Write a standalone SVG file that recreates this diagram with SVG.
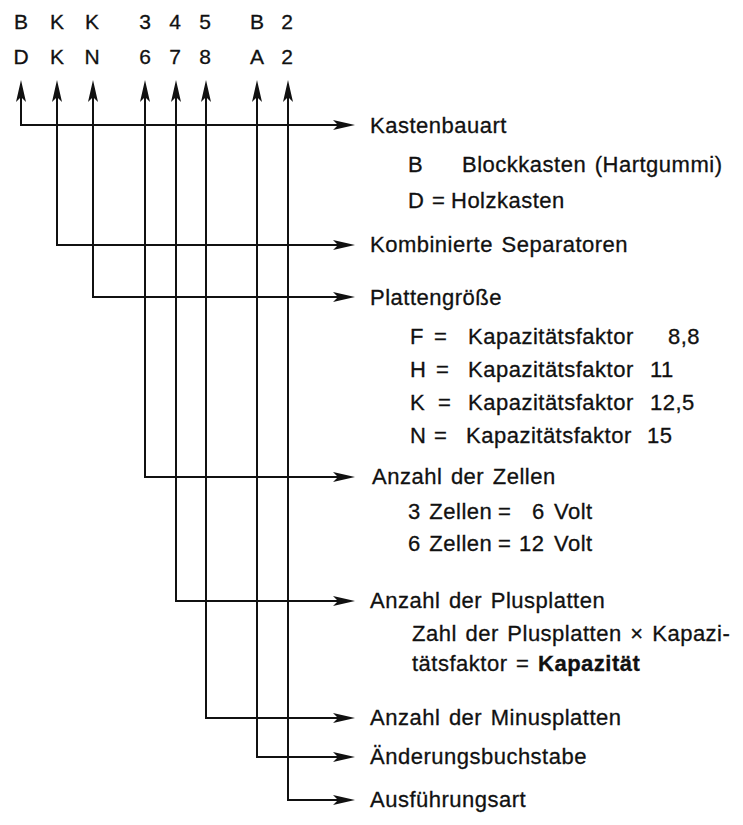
<svg xmlns="http://www.w3.org/2000/svg" width="743" height="825" viewBox="0 0 743 825">
<style>
text{font-family:"Liberation Sans",Arial,sans-serif;font-size:22px;letter-spacing:0.5px;word-spacing:2px;fill:#111;stroke:#111;stroke-width:0.3}
.c{text-anchor:middle;font-size:21px;letter-spacing:0}
.b{font-weight:bold}
.ln{fill:none;stroke:#111;stroke-width:2;marker-start:url(#ah);marker-end:url(#ah)}
</style>
<defs>
<marker id="ah" markerUnits="userSpaceOnUse" viewBox="-18 -6 26 12" refX="0" refY="0" markerWidth="26" markerHeight="12" orient="auto-start-reverse">
<path d="M6,0 L-16,-5 L-11,0 L-16,5 Z" fill="#111"/>
</marker>
</defs>
<rect width="743" height="825" fill="#fff"/>
<g id="code">
<text class="c" x="21" y="29">B</text><text class="c" x="57" y="29">K</text><text class="c" x="92" y="29">K</text>
<text class="c" x="145" y="29">3</text><text class="c" x="175" y="29">4</text><text class="c" x="205" y="29">5</text>
<text class="c" x="257" y="29">B</text><text class="c" x="287" y="29">2</text>
<text class="c" x="21" y="64">D</text><text class="c" x="57" y="64">K</text><text class="c" x="92" y="64">N</text>
<text class="c" x="145" y="64">6</text><text class="c" x="175" y="64">7</text><text class="c" x="205" y="64">8</text>
<text class="c" x="257" y="64">A</text><text class="c" x="287" y="64">2</text>
</g>
<g id="connectors">
<path class="ln" d="M21,86 V125 H349"/>
<path class="ln" d="M57,86 V245 H349"/>
<path class="ln" d="M93,86 V297 H349"/>
<path class="ln" d="M145,86 V477 H349"/>
<path class="ln" d="M176,86 V601 H349"/>
<path class="ln" d="M206,86 V718 H349"/>
<path class="ln" d="M257,86 V757 H349"/>
<path class="ln" d="M288,86 V800 H349"/>
</g>
<g id="kastenbauart">
<text x="370" y="133">Kastenbauart</text>
<text x="408" y="172">B</text><text x="462" y="172">Blockkasten (Hartgummi)</text>
<text x="408" y="208">D</text><text x="432" y="208">=</text><text x="451" y="208">Holzkasten</text>
</g>
<g id="separatoren">
<text x="370" y="252">Kombinierte Separatoren</text>
</g>
<g id="plattengroesse">
<text x="370" y="305">Plattengröße</text>
<text x="410" y="344">F</text><text x="434" y="344">=</text><text x="468" y="344">Kapazitätsfaktor</text><text x="668" y="344">8,8</text>
<text x="410" y="377">H</text><text x="436" y="377">=</text><text x="468" y="377">Kapazitätsfaktor</text><text x="650" y="377">11</text>
<text x="410" y="410">K</text><text x="438" y="410">=</text><text x="468" y="410">Kapazitätsfaktor</text><text x="650" y="410">12,5</text>
<text x="410" y="443">N</text><text x="434" y="443">=</text><text x="466" y="443">Kapazitätsfaktor</text><text x="647" y="443">15</text>
</g>
<g id="zellen">
<text x="372" y="484">Anzahl der Zellen</text>
<text x="408" y="519">3 Zellen</text><text x="498" y="519">=</text><text x="532" y="519">6</text><text x="554" y="519">Volt</text>
<text x="408" y="551">6 Zellen</text><text x="498" y="551">=</text><text x="519" y="551">12</text><text x="554" y="551">Volt</text>
</g>
<g id="plusplatten">
<text x="370" y="608">Anzahl der Plusplatten</text>
<text x="412" y="641">Zahl der Plusplatten × Kapazi-</text>
<text x="412" y="671">tätsfaktor = <tspan class="b">Kapazität</tspan></text>
</g>
<g id="minusplatten">
<text x="370" y="725">Anzahl der Minusplatten</text>
</g>
<g id="aenderung">
<text x="370" y="764">Änderungsbuchstabe</text>
</g>
<g id="ausfuehrung">
<text x="370" y="807">Ausführungsart</text>
</g>
</svg>
